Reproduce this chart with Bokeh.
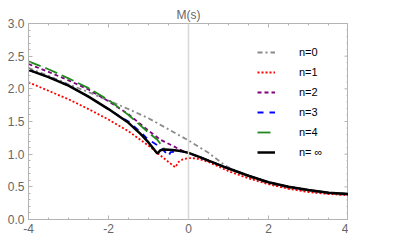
import math
from bokeh.plotting import figure
from bokeh.models import Range1d, LinearAxis, FixedTicker, PrintfTickFormatter, Span, Legend, LegendItem
from bokeh.embed import file_html
from bokeh.resources import INLINE

# ---- data ----
s_n0 = [-4, -3.5, -3, -2.5, -2, -1.5, -1, -0.5, 0, 0.5, 0.93, 1.5, 2, 2.5, 3, 3.5, 4]
m_n0 = [2.32, 2.20, 2.07, 1.95, 1.82, 1.69, 1.55, 1.38, 1.21, 1.02, 0.82, 0.65, 0.55, 0.48, 0.43, 0.395, 0.375]

s_n1 = [-4, -3.5, -3, -2.5, -2, -1.5, -1, -0.7, -0.5, -0.33, -0.25, -0.15, 0, 0.2, 0.5, 1.0, 1.5, 2.0, 2.5, 3.0, 3.5, 4.0]
m_n1 = [2.10, 1.97, 1.84, 1.69, 1.53, 1.35, 1.13, 0.98, 0.88, 0.80, 0.88, 0.92, 0.94, 0.935, 0.88, 0.74, 0.63, 0.54, 0.47, 0.42, 0.39, 0.37]

s_n2 = [-4, -3.5, -3, -2.5, -2, -1.5, -1, -0.7, -0.4, -0.15, 0, 0.3, 0.5, 1, 1.5, 2, 2.5, 3, 3.5, 4]
m_n2 = [2.38, 2.26, 2.13, 1.99, 1.81, 1.61, 1.36, 1.22, 1.13, 1.05, 1.02, 0.95, 0.90, 0.78, 0.67, 0.57, 0.50, 0.45, 0.41, 0.39]

s_n3 = [-4, -3.5, -3, -2.5, -2, -1.7, -1.5, -1.2, -1, -0.7, -0.55, -0.5, -0.45, -0.2, 0, 0.3, 0.5, 1, 1.5, 2, 2.5, 3, 3.5, 4]
m_n3 = [2.29, 2.18, 2.05, 1.88, 1.69, 1.57, 1.50, 1.34, 1.22, 1.11, 1.01, 0.97, 1.03, 1.045, 1.02, 0.95, 0.90, 0.78, 0.67, 0.57, 0.50, 0.45, 0.41, 0.39]

s_n4 = [-4, -3.5, -3, -2.5, -2, -1.5, -1, -0.78, -0.65, -0.6, -0.4, -0.2, 0, 0.3, 0.5, 1, 1.5, 2, 2.5, 3, 3.5, 4]
m_n4 = [2.42, 2.30, 2.16, 2.01, 1.83, 1.60, 1.33, 1.22, 1.12, 1.07, 1.065, 1.05, 1.02, 0.95, 0.90, 0.78, 0.67, 0.57, 0.50, 0.45, 0.41, 0.39]

s_inf = [-4, -3.5, -3, -2.5, -2, -1.5, -1.2, -1.0, -0.78, -0.7, -0.6, -0.4, -0.2, 0, 0.3, 0.5, 1.0, 1.5, 2.0, 2.5, 3.0, 3.5, 4.0]
m_inf = [2.29, 2.18, 2.05, 1.88, 1.69, 1.48, 1.31, 1.18, 1.01, 1.06, 1.07, 1.065, 1.05, 1.02, 0.95, 0.90, 0.78, 0.67, 0.57, 0.50, 0.45, 0.41, 0.39]

labels = ["n=0", "n=1", "n=2", "n=3", "n=4", "n= \u221e"]
x_ticks = [-4, -2, 0, 2, 4]
x_minor = [-3.5, -3, -2.5, -1.5, -1, -0.5, 0.5, 1, 1.5, 2.5, 3, 3.5]
y_ticks = [0.0, 0.5, 1.0, 1.5, 2.0, 2.5, 3.0]
y_minor = [0.1, 0.2, 0.3, 0.4, 0.6, 0.7, 0.8, 0.9, 1.1, 1.2, 1.3, 1.4, 1.6, 1.7, 1.8, 1.9,
           2.1, 2.2, 2.3, 2.4, 2.6, 2.7, 2.8, 2.9]

AX = "#b4b4b4"
TXT = "#666666"
FONT = "Liberation Sans"

p = figure(width=390, height=245, output_backend="svg", toolbar_location=None,
           x_range=Range1d(-4, 4), y_range=Range1d(0, 3),
           x_axis_location=None, y_axis_location=None,
           min_border_left=28, min_border_right=0, min_border_top=23, min_border_bottom=0)
p.frame_width = 320
p.frame_height = 196
p.grid.visible = False
p.outline_line_color = AX
p.outline_line_width = 1
p.background_fill_color = "white"

p.title.text = "M(s)"
p.title.align = "center"
p.title.text_font = FONT
p.title.text_font_size = "12px"
p.title.text_font_style = "normal"
p.title.text_color = TXT
p.title.standoff = 4
p.title.offset = 0

def make_axis(ticks, minor, fmt):
    ax = LinearAxis(ticker=FixedTicker(ticks=ticks, minor_ticks=minor),
                    formatter=PrintfTickFormatter(format=fmt))
    ax.axis_line_color = AX
    ax.major_tick_line_color = AX
    ax.minor_tick_line_color = AX
    ax.major_tick_in = 4
    ax.major_tick_out = 0
    ax.minor_tick_in = 2
    ax.minor_tick_out = 0
    ax.major_label_text_font = FONT
    ax.major_label_text_color = TXT
    ax.major_label_text_font_size = "12px"
    ax.major_label_standoff = 4
    return ax

p.add_layout(make_axis(x_ticks, x_ticks + x_minor, "%d"), "below")
p.add_layout(make_axis(y_ticks, y_ticks + y_minor, "%.1f"), "left")

# inward ticks on the top and right frame edges (half of each dash is clipped by the frame)
p.scatter(x_ticks, [3.0] * len(x_ticks), marker="dash", size=8, angle=math.pi / 2, line_color=AX, line_width=1)
p.scatter(x_minor, [3.0] * len(x_minor), marker="dash", size=4, angle=math.pi / 2, line_color=AX, line_width=1)
p.scatter([4.0] * len(y_ticks), y_ticks, marker="dash", size=8, line_color=AX, line_width=1)
p.scatter([4.0] * len(y_minor), y_minor, marker="dash", size=4, line_color=AX, line_width=1)

p.add_layout(Span(location=0, dimension="height", line_color="#d8d8d8", line_width=1.5))

r0 = p.line(s_n0, m_n0, line_color="#8a8a8a", line_width=1.8, line_dash="5 3 2 3")
r1 = p.line(s_n1, m_n1, line_color="#ff0000", line_width=1.8, line_dash="2 2")
r2 = p.line(s_n2, m_n2, line_color="#800080", line_width=1.8, line_dash="4 3")
r3 = p.line(s_n3, m_n3, line_color="#0000ff", line_width=1.8, line_dash="6 6")
r4 = p.line(s_n4, m_n4, line_color="#208a20", line_width=1.8, line_dash="13 5")
r5 = p.line(s_inf, m_inf, line_color="#000000", line_width=2.5)

legend = Legend(items=[LegendItem(label=l, renderers=[r]) for l, r in zip(labels, [r0, r1, r2, r3, r4, r5])],
                location=(229, 57), label_standoff=24, glyph_width=18, glyph_height=20,
                label_height=20, spacing=0, padding=0, margin=0)
legend.label_text_font = FONT
legend.label_text_font_size = "11px"
legend.label_text_color = "#000000"
legend.border_line_alpha = 0
legend.background_fill_alpha = 0
p.add_layout(legend, "center")

open("out.html", "w").write(file_html(p, INLINE))
